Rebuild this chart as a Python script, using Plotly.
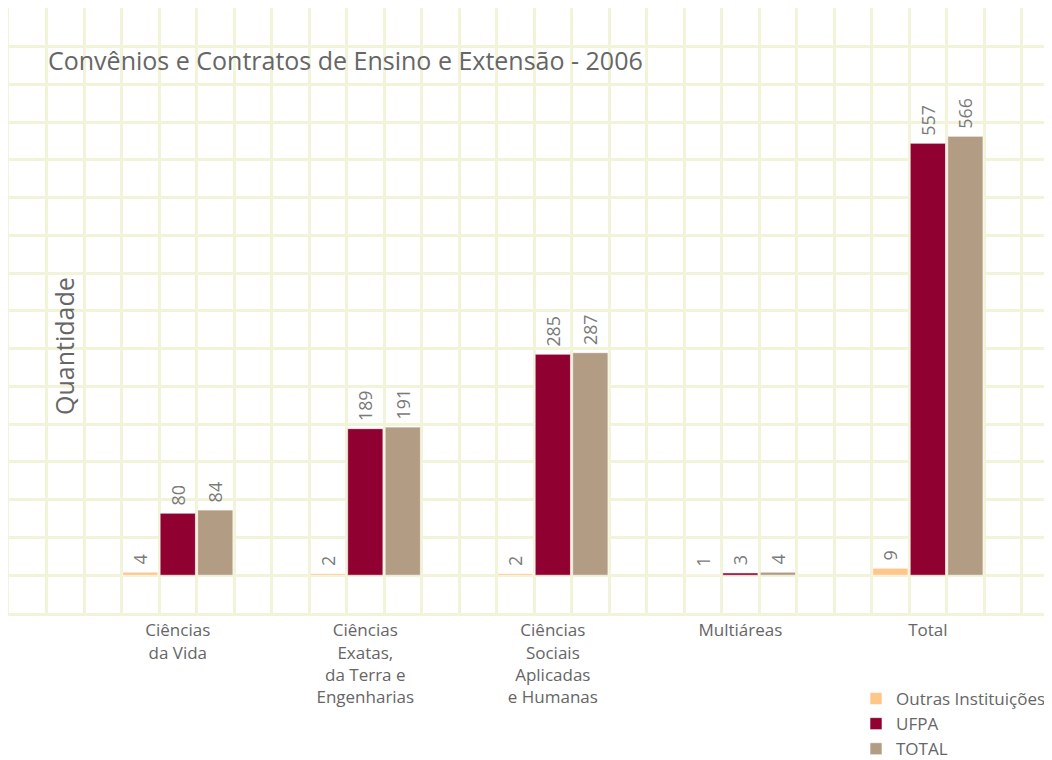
import plotly.graph_objects as go

# ── Data ─────────────────────────────────────────────────────────
categorias = [
    "Ciências<br>da Vida",
    "Ciências<br>Exatas,<br>da Terra e<br>Engenharias",
    "Ciências<br>Sociais<br>Aplicadas<br>e Humanas",
    "Multiáreas",
    "Total",
]
outras = [4, 2, 2, 1, 9]
ufpa = [80, 189, 285, 3, 557]
total = [84, 191, 287, 4, 566]

series = [
    ("Outras Instituições", outras, "#FFC68A"),
    ("UFPA", ufpa, "#900030"),
    ("TOTAL", total, "#B39C84"),
]

# ── Style ────────────────────────────────────────────────────────
GRID = "#F1F4D8"
TEXT = "#666666"
FONT = "Open Sans, sans-serif"
CELL = 48.7          # value units per horizontal grid cell
GROUP = 5            # grid cells per category
FIRST = 3.5          # cell centre of first bar
OFF = 8              # page body margin in the browser

fig = go.Figure()

for j, (name, vals, color) in enumerate(series):
    xs = [FIRST + GROUP * i + j for i in range(len(categorias))]
    fig.add_trace(go.Bar(
        x=xs, y=vals, name=name,
        width=0.94,
        marker=dict(color=color, line=dict(color="#FFFFFF", width=0.6)),
        # leading nbsp gives a little air between bar top and rotated label
        text=["\u00a0" + str(v) for v in vals],
        textposition="outside",
        textangle=-90,
        textfont=dict(color="#7A7A7A", size=18, family=FONT),
        cliponaxis=False,
        hoverinfo="x+y+name",
    ))

centres = [FIRST + 1 + GROUP * i for i in range(len(categorias))]

fig.update_layout(
    width=1052, height=760,
    paper_bgcolor="#FFFFFF",
    plot_bgcolor="#FFFFFF",
    font=dict(family=FONT, color=TEXT, size=17),
    margin=dict(l=1, r=8, t=0, b=155, autoexpand=False),
    barmode="overlay",
    title=dict(
        text="Convênios e Contratos de Ensino e Extensão - 2006",
        font=dict(size=25, color=TEXT, family=FONT),
        x=(48 - OFF) / 1052, xanchor="left", xref="container",
        y=1 - (61 - OFF) / 760, yanchor="middle", yref="container",
    ),
    xaxis=dict(
        range=[0, 27.81],
        tickmode="array", tickvals=centres, ticktext=categorias,
        showgrid=False, zeroline=False,
        minor=dict(tickmode="linear", tick0=0, dtick=1, showgrid=True,
                   gridcolor=GRID, gridwidth=3, ticks=""),
        showline=True, mirror=True, linecolor=GRID, linewidth=3,
        ticks="", tickfont=dict(size=17, color=TEXT),
    ),
    yaxis=dict(
        range=[-1.0 * CELL, 15.02 * CELL],
        tick0=0, dtick=CELL,
        showgrid=True, gridcolor=GRID, gridwidth=3,
        zeroline=False, showticklabels=False, ticks="",
        showline=True, mirror=True, linecolor=GRID, linewidth=3,
    ),
    legend=dict(
        xref="container", yref="container",
        x=848 / 1052, xanchor="left",
        y=1 - 673 / 760, yanchor="top",
        font=dict(size=17, color=TEXT, family=FONT),
        bgcolor="rgba(0,0,0,0)",
        tracegroupgap=0,
    ),
    annotations=[dict(
        text="Quantidade", textangle=-90,
        xref="paper", yref="paper",
        x=(64 - 9) / 1043, y=1 - (345 - 7) / 605,
        xanchor="center", yanchor="middle",
        showarrow=False,
        font=dict(size=25, color=TEXT, family=FONT),
    )],
)

fig.write_html("out.html")
